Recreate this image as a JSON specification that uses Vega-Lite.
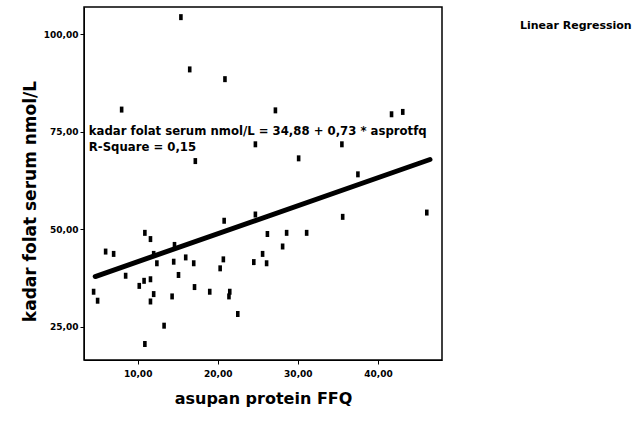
{
  "$schema": "https://vega.github.io/schema/vega-lite/v6.json",
  "autosize": {"type": "none"},
  "padding": {"left": 84, "top": 7, "right": 202, "bottom": 61},
  "width": 358,
  "height": 353,
  "background": "white",
  "config": {
    "view": {"stroke": "black", "strokeWidth": 1.5},
    "font": "DejaVu Sans",
    "axis": {
      "grid": false,
      "domainColor": "black",
      "tickColor": "black",
      "labelColor": "black",
      "titleColor": "black",
      "labelFont": "DejaVu Sans",
      "labelFontWeight": "bold",
      "labelFontSize": 9,
      "titleFont": "DejaVu Sans",
      "titleFontWeight": "bold",
      "tickSize": 4
    }
  },
  "datasets": {
    "points": [
      {"asupan": 15.4, "folat": 104.4},
      {"asupan": 16.5, "folat": 91.0},
      {"asupan": 20.9, "folat": 88.5},
      {"asupan": 8.0, "folat": 80.7},
      {"asupan": 24.7, "folat": 71.8},
      {"asupan": 17.2, "folat": 67.5},
      {"asupan": 27.2, "folat": 80.5},
      {"asupan": 41.7, "folat": 79.5},
      {"asupan": 43.1, "folat": 80.1},
      {"asupan": 35.5, "folat": 71.8},
      {"asupan": 30.1, "folat": 68.2},
      {"asupan": 37.5, "folat": 64.1},
      {"asupan": 24.7, "folat": 53.8},
      {"asupan": 35.6, "folat": 53.2},
      {"asupan": 46.1, "folat": 54.3},
      {"asupan": 20.8, "folat": 52.2},
      {"asupan": 26.2, "folat": 48.8},
      {"asupan": 28.6, "folat": 49.1},
      {"asupan": 31.1, "folat": 49.1},
      {"asupan": 28.1, "folat": 45.6},
      {"asupan": 25.6, "folat": 43.7},
      {"asupan": 26.1, "folat": 41.3},
      {"asupan": 24.5, "folat": 41.6},
      {"asupan": 20.7, "folat": 42.3},
      {"asupan": 20.3, "folat": 40.0},
      {"asupan": 17.0, "folat": 41.3},
      {"asupan": 17.1, "folat": 35.2},
      {"asupan": 19.0, "folat": 34.0},
      {"asupan": 21.5, "folat": 34.0},
      {"asupan": 21.4, "folat": 32.8},
      {"asupan": 22.5, "folat": 28.3},
      {"asupan": 10.9, "folat": 49.1},
      {"asupan": 11.6, "folat": 47.5},
      {"asupan": 6.0, "folat": 44.3},
      {"asupan": 7.0, "folat": 43.7},
      {"asupan": 14.6, "folat": 46.0},
      {"asupan": 12.0, "folat": 43.7},
      {"asupan": 12.4, "folat": 41.3},
      {"asupan": 14.5, "folat": 41.7},
      {"asupan": 16.0, "folat": 42.8},
      {"asupan": 8.5, "folat": 38.1},
      {"asupan": 15.1, "folat": 38.3},
      {"asupan": 10.8, "folat": 36.8},
      {"asupan": 10.2, "folat": 35.5},
      {"asupan": 11.6, "folat": 37.2},
      {"asupan": 4.5, "folat": 34.0},
      {"asupan": 5.0, "folat": 31.7},
      {"asupan": 12.0, "folat": 33.4},
      {"asupan": 11.6, "folat": 31.5},
      {"asupan": 14.3, "folat": 32.8},
      {"asupan": 13.3, "folat": 25.3},
      {"asupan": 10.9, "folat": 20.6}
    ],
    "fit": [
      {"asupan": 4.7, "folat": 37.9, "series": "Linear Regression"},
      {"asupan": 46.5, "folat": 67.9, "series": "Linear Regression"}
    ],
    "notes": [
      {"asupan": 3.9, "folat": 75.3, "text": "kadar folat serum nmol/L = 34,88 + 0,73 * asprotfq"},
      {"asupan": 3.9, "folat": 71.0, "text": "R-Square = 0,15"}
    ]
  },
  "layer": [
    {
      "data": {"name": "fit"},
      "mark": {"type": "line", "strokeWidth": 5, "strokeCap": "round"},
      "encoding": {
        "x": {
          "field": "asupan", "type": "quantitative",
          "scale": {"domain": [3.3, 48], "nice": false, "zero": false},
          "axis": {
            "title": "asupan protein FFQ",
            "titleFontSize": 16,
            "values": [10, 20, 30, 40],
            "labelExpr": "replace(format(datum.value, '.2f'), '.', ',')",
            "titlePadding": 12,
            "labelPadding": 5
          }
        },
        "y": {
          "field": "folat", "type": "quantitative",
          "scale": {"domain": [16.5, 107], "nice": false, "zero": false},
          "axis": {
            "title": "kadar folat serum nmol/L",
            "titleFontSize": 17,
            "titleY": 194,
            "values": [25, 50, 75, 100],
            "labelExpr": "replace(format(datum.value, '.2f'), '.', ',')",
            "titlePadding": 4,
            "labelPadding": 2
          }
        },
        "color": {
          "field": "series", "type": "nominal",
          "scale": {"range": ["black"]},
          "legend": {
            "title": null,
            "orient": "none",
            "legendX": 425,
            "legendY": 13,
            "symbolOpacity": 0,
            "symbolSize": 0,
            "symbolStrokeWidth": 0,
            "labelFont": "DejaVu Sans",
            "labelFontWeight": "bold",
            "labelFontSize": 11,
            "labelColor": "black",
            "labelOffset": 0
          }
        }
      }
    },
    {
      "data": {"name": "points"},
      "mark": {
        "type": "point",
        "shape": "M -0.6 -1 L 0.6 -1 L 0.6 1 L -0.6 1 Z",
        "filled": true,
        "color": "black",
        "opacity": 1,
        "size": 36
      },
      "encoding": {
        "x": {"field": "asupan", "type": "quantitative"},
        "y": {"field": "folat", "type": "quantitative"}
      }
    },
    {
      "data": {"name": "notes"},
      "mark": {
        "type": "text",
        "align": "left",
        "baseline": "middle",
        "font": "DejaVu Sans",
        "fontWeight": "bold",
        "fontSize": 11.7,
        "color": "black"
      },
      "encoding": {
        "x": {"field": "asupan", "type": "quantitative"},
        "y": {"field": "folat", "type": "quantitative"},
        "text": {"field": "text"}
      }
    }
  ]
}
